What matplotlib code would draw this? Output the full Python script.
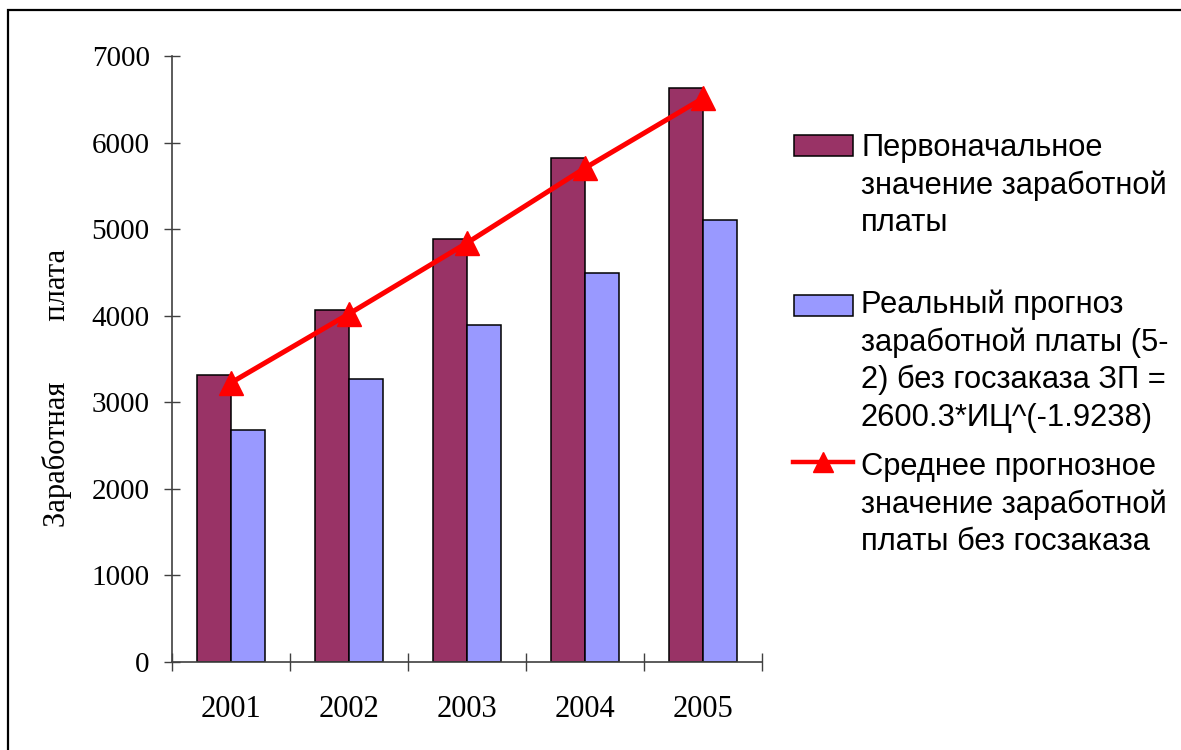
import numpy as np
import matplotlib
matplotlib.use("Agg")
import matplotlib.pyplot as plt
from matplotlib.patches import Rectangle
from matplotlib.lines import Line2D

# data
years = ["2001", "2002", "2003", "2004", "2005"]
initial_wage = [3310, 4068, 4890, 5825, 6625]
real_forecast = [2684, 3264, 3895, 4498, 5106]
mean_forecast = [3226, 4022, 4841, 5706, 6512]
yticks = [0, 1000, 2000, 3000, 4000, 5000, 6000, 7000]

label_initial = "Первоначальное\nзначение заработной\nплаты"
label_real = "Реальный прогноз\nзаработной платы (5-\n2) без госзаказа ЗП =\n2600.3*ИЦ^(-1.9238)"
label_mean = "Среднее прогнозное\nзначение заработной\nплаты без госзаказа"
ylabel = "Заработная        плата"

W, H = 1181, 750
fig = plt.figure(figsize=(W / 100, H / 100), dpi=100)
fig.patch.set_facecolor("white")

ax = fig.add_axes([172 / W, 1 - 662 / H, (762 - 172) / W, (662 - 56) / H])

x = np.arange(len(years))
bw = 0.29
ax.bar(x - bw / 2, initial_wage, width=bw, color="#993366",
       edgecolor="black", linewidth=1.1, zorder=2)
ax.bar(x + bw / 2, real_forecast, width=bw, color="#9999FF",
       edgecolor="black", linewidth=1.1, zorder=2)
ax.plot(x, mean_forecast, color="#FF0000", lw=3.6, marker="^", ms=17,
        zorder=3, clip_on=False)

ax.set_xlim(-0.5, len(years) - 0.5)
ax.set_ylim(0, 7000)

for s in ["top", "right"]:
    ax.spines[s].set_visible(False)
for s in ["left", "bottom"]:
    ax.spines[s].set_color("#404040")
    ax.spines[s].set_linewidth(1.2)

ax.set_yticks(yticks)
ax.set_yticklabels([str(v) for v in yticks], fontfamily="Liberation Serif", fontsize=21)
ax.tick_params(axis="y", direction="inout", length=12, width=1.0, color="#404040", pad=10)

ax.set_xticks(np.arange(len(years) + 1) - 0.5)
ax.set_xticklabels([""] * (len(years) + 1))
ax.tick_params(axis="x", which="major", direction="inout", length=13, width=1.0, color="#404040")
ax.set_xticks(x, minor=True)
ax.set_xticklabels(years, minor=True, fontfamily="Liberation Serif", fontsize=22)
ax.tick_params(axis="x", which="minor", length=0, pad=24)

ax.set_ylabel(ylabel, fontfamily="Liberation Serif", fontsize=22, va="center")
ax.yaxis.set_label_coords((57 - 172) / 590, (662 - 388) / 606)

# legend drawn by hand to keep the Excel-like layout
fs = 22.2
def fy(py):
    return 1 - py / H

fig.patches.append(Rectangle((794 / W, fy(156)), 59 / W, 21 / H, transform=fig.transFigure,
                             facecolor="#993366", edgecolor="black", lw=1.1))
fig.patches.append(Rectangle((794 / W, fy(316)), 59 / W, 21 / H, transform=fig.transFigure,
                             facecolor="#9999FF", edgecolor="black", lw=1.1))
fig.lines.append(Line2D([793 / W, 853 / W], [fy(462), fy(462)], transform=fig.transFigure,
                        color="#FF0000", lw=3.2))
fig.lines.append(Line2D([823 / W], [fy(462)], transform=fig.transFigure, color="#FF0000",
                        marker="^", ms=14, lw=0))

for txt, top in [(label_initial, 133), (label_real, 289), (label_mean, 452)]:
    fig.text(861 / W, fy(top), txt, fontfamily="Liberation Sans", fontsize=fs,
             ha="left", va="top", linespacing=1.32)

# outer frame
fig.patches.append(Rectangle((8 / W, -0.1), 1.2, fy(10) + 0.1, transform=fig.transFigure,
                             facecolor="none", edgecolor="black", lw=1.6))

fig.savefig("out.png", dpi=100)
